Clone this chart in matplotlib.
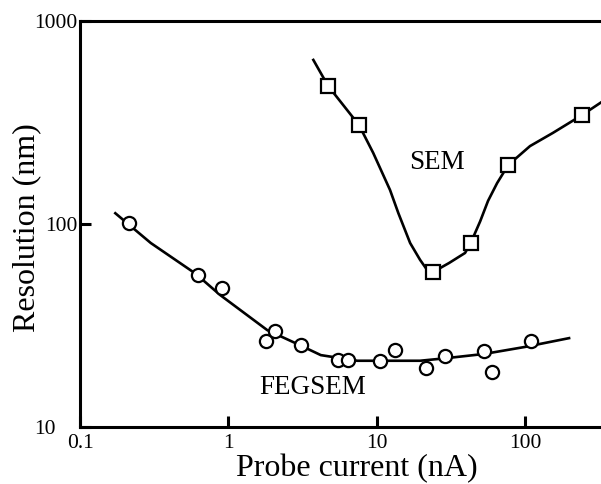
import matplotlib.pyplot as plt
from matplotlib.transforms import ScaledTranslation

plt.rcParams['font.family'] = ['Liberation Serif', 'DejaVu Serif']

# FEGSEM measurements (circles) and fitted curve
feg_x = [0.215, 0.62, 0.90, 1.80, 2.07, 3.1, 5.5, 6.4, 10.5, 13.3, 21.5, 28.9, 53, 60, 110]
feg_y = [101, 56, 48.4, 26.5, 29.7, 25.4, 21.4, 21.4, 21.2, 23.9, 19.5, 22.4, 23.7, 18.7, 26.5]
feg_fit_x = [0.173, 0.3, 0.6, 0.88, 1.83, 3.0, 4.2, 7.4, 10.5, 19.6, 28.9, 53, 100, 198]
feg_fit_y = [113, 80.6, 57, 44.7, 30.0, 25.4, 22.6, 21.2, 21.2, 21.2, 21.8, 22.9, 24.8, 27.4]

# SEM measurements (squares) and fitted curve
sem_x = [4.7, 7.6, 24, 43, 76.9, 242]
sem_y = [479, 307, 58, 80.6, 195, 344]
sem_fit_x = [3.74, 4.7, 7.6, 9.47, 12.3, 14.0, 16.8, 19.6, 21.9, 24, 30.8, 39.4, 43,
             49.8, 56.3, 64.8, 76.9, 108, 154, 242, 330]
sem_fit_y = [643, 479, 307, 224, 147, 113, 80.6, 66.6, 59.3, 58, 64.3, 72, 80.6,
             103, 130, 159, 195, 242, 281, 344, 400]

xticks = [0.1, 1, 10, 100]
xtick_labels = ['0.1', '1', '10', '100']
yticks = [10, 100, 1000]
ytick_labels = ['10', '100', '1000']

fig = plt.figure(figsize=(6.01, 4.84), dpi=100)
ax = fig.add_axes([80 / 601, 57 / 484, 521 / 601, 406 / 484])

ax.plot(feg_fit_x, feg_fit_y, color='black', lw=1.9, zorder=2)
ax.plot(feg_x, feg_y, 'o', ms=9.5, mfc='white', mec='black', mew=1.6, zorder=3)
ax.plot(sem_fit_x, sem_fit_y, color='black', lw=1.9, zorder=2)
ax.plot(sem_x, sem_y, 's', ms=9.5, mfc='white', mec='black', mew=1.6, zorder=3)

ax.set_xscale('log')
ax.set_yscale('log')
ax.set_xlim(0.1, 325)
ax.set_ylim(10, 1000)
ax.minorticks_off()
ax.set_xticks(xticks)
ax.set_xticklabels(xtick_labels)
ax.set_yticks(yticks)
ax.set_yticklabels(ytick_labels)
ax.tick_params(direction='in', length=8, width=2.2, labelsize=15.5, pad=5)
ax.tick_params(axis='y', pad=2)

for s in ['left', 'bottom', 'top']:
    ax.spines[s].set_linewidth(2.2)
ax.spines['right'].set_visible(False)

# the "10" label sits further left in the original
lbl = ax.get_yticklabels()[0]
lbl.set_transform(lbl.get_transform() + ScaledTranslation(-0.22, 0, fig.dpi_scale_trans))

ax.text(25.5, 200, 'SEM', fontsize=19.5, ha='center', va='center')
ax.text(3.68, 15.6, 'FEGSEM', fontsize=19.5, ha='center', va='center')

ax.set_xlabel('Probe current (nA)', fontsize=23)
ax.set_ylabel('Resolution (nm)', fontsize=23)
ax.xaxis.set_label_coords(0.532, -0.066)
ax.yaxis.set_label_coords(-0.075, 0.49)

fig.savefig('out.png', dpi=100)
